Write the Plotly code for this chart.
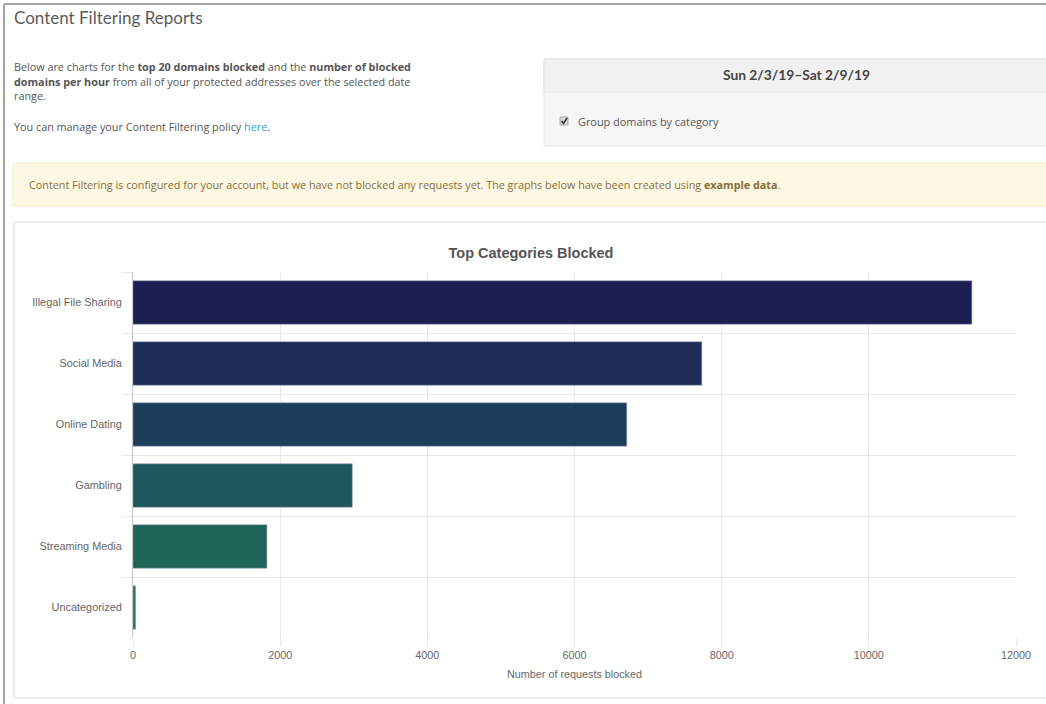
import plotly.graph_objects as go

# ---- data ----
categories = ["Illegal File Sharing", "Social Media", "Online Dating",
              "Gambling", "Streaming Media", "Uncategorized"]
requests_blocked = [11400, 7730, 6710, 2980, 1820, 35]
bar_colors = ["#1c1d50", "#1d2c55", "#1c3e5a", "#1e575c", "#1e6457", "#227659"]
x_ticks = [0, 2000, 4000, 6000, 8000, 10000, 12000]

W, H = 1046, 704
L, R, T, B = 133, 30, 272, 66
PW, PH = W - L - R, H - T - B


def px(x):
    return (x - L) / PW


def py(y):
    return (H - B - y) / PH


fig = go.Figure(go.Bar(
    x=requests_blocked, y=categories, orientation="h",
    marker=dict(color=bar_colors, line=dict(color="rgba(150,150,190,0.5)", width=1)),
    width=0.71, hoverinfo="x+y",
))

shapes = []
annotations = []

def rect(x0, y0, x1, y1, fill, line="rgba(0,0,0,0)", lw=1):
    shapes.append(dict(type="rect", xref="paper", yref="paper",
                       x0=px(x0), x1=px(x1), y0=py(y1), y1=py(y0),
                       fillcolor=fill, line=dict(color=line, width=lw), layer="below"))

def text(x, y, s, size, color, family="Open Sans", xanchor="left"):
    annotations.append(dict(xref="paper", yref="paper", x=px(x), y=py(y), text=s,
                            showarrow=False, xanchor=xanchor, yanchor="middle",
                            font=dict(size=size, color=color, family=family)))

# page frame
shapes.append(dict(type="line", xref="paper", yref="paper", x0=px(4), x1=px(1050),
                   y0=py(4), y1=py(4), line=dict(color="#a5a5a5", width=2)))
shapes.append(dict(type="line", xref="paper", yref="paper", x0=px(4), x1=px(4),
                   y0=py(4), y1=py(710), line=dict(color="#a5a5a5", width=2)))

# header texts
text(12, 17, "Content Filtering Reports", 17, "#5a5a5a", family="Lato")
body = "#555555"
text(12, 66, "Below are charts for the <b>top 20 domains blocked</b> and the <b>number of blocked</b>", 10.8, body)
text(12, 81, "<b>domains per hour</b> from all of your protected addresses over the selected date", 10.8, body)
text(12, 96, "range.", 10.8, body)
text(12, 126, "You can manage your Content Filtering policy <span style='color:#2fa3cf'>here</span>.", 10.8, body)

# date box
rect(544, 59, 1050, 146, "#f6f6f6", "#e6e6e6")
rect(544, 59, 1050, 92, "#f1f1f1", "#e3e3e3")
text(796, 75, "<b>Sun 2/3/19–Sat 2/9/19</b>", 13.8, "#444444", family="Lato", xanchor="center")
rect(560, 117, 568, 125, "#d9d9d9", "#aaaaaa")
shapes.append(dict(type="path", xref="paper", yref="paper",
                   path=f"M {px(561.5)},{py(121)} L {px(563.5)},{py(123.5)} L {px(567)},{py(118)}",
                   line=dict(color="#333333", width=1.5)))
text(576, 121, "Group domains by category", 10.9, "#555555")

# alert box
rect(13, 163, 1050, 206, "#fcf8e3", "#faebcc")
text(27, 184, "Content Filtering is configured for your account, but we have not blocked any requests yet. "
     "The graphs below have been created using <b>example data</b>.", 10.8, "#8a6d3b")

# chart panel
rect(14, 222, 1050, 698, "#ffffff", "#dddddd")

fig.update_layout(
    width=W, height=H,
    margin=dict(l=L, r=R, t=T, b=B),
    paper_bgcolor="#ffffff", plot_bgcolor="rgba(0,0,0,0)",
    showlegend=False,
    shapes=shapes, annotations=annotations,
    title=dict(text="<b>Top Categories Blocked</b>", x=531 / W, xanchor="center",
               y=1 - 253 / H, yanchor="middle",
               font=dict(size=14.5, color="#555555", family="Liberation Sans, Arial")),
    font=dict(family="Liberation Sans, Arial", color="#666666", size=10.8),
    xaxis=dict(range=[0, 12000], tickvals=x_ticks, ticktext=[str(v) for v in x_ticks],
               showgrid=True, gridcolor="#e8e8e8", gridwidth=1,
               ticks="outside", ticklen=7, tickcolor="#e8e8e8",
               zeroline=False, showline=False, fixedrange=True,
               tickfont=dict(size=10.8),
               title=dict(text="Number of requests blocked", standoff=10,
                          font=dict(size=10.8, color="#666666"))),
    yaxis=dict(categoryorder="array", categoryarray=categories, autorange="reversed",
               tickson="boundaries", showgrid=True, gridcolor="#e8e8e8",
               ticks="outside", ticklen=10, tickcolor="#e8e8e8",
               ticklabelstandoff=8,
               showline=True, linecolor="#c8c8c8", linewidth=1,
               tickfont=dict(size=10.9),
               zeroline=False, fixedrange=True),
    bargap=0.29,
)

fig.write_html("out.html")
